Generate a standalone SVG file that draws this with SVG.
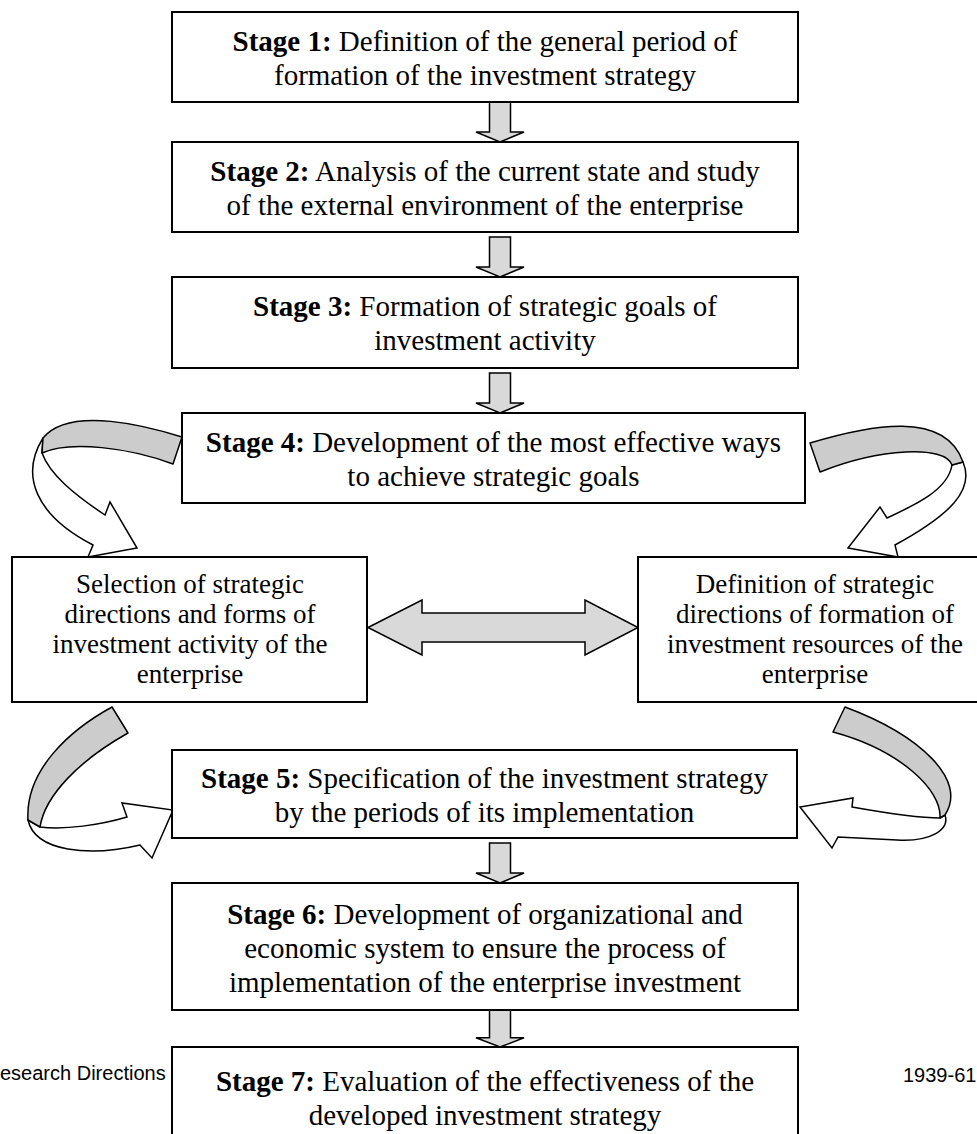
<svg xmlns="http://www.w3.org/2000/svg" width="977" height="1134" viewBox="0 0 977 1134">
<style>
.box{fill:#fff;stroke:#000;stroke-width:2}
.t{font-family:"Liberation Serif","Times New Roman",serif;font-size:29px;fill:#000;text-anchor:middle}
.s{font-family:"Liberation Serif","Times New Roman",serif;font-size:27px;fill:#000;text-anchor:middle}
.b{font-weight:bold}
.arr{fill:#d9d9d9;stroke:#000;stroke-width:1.5;stroke-linejoin:miter}
.rib{fill:#cccccc;stroke:#000;stroke-width:1.5;stroke-linejoin:round}
.wht{fill:#fff;stroke:#000;stroke-width:1.5;stroke-linejoin:miter}
.ft{font-family:"Liberation Sans",Arial,sans-serif;font-size:20px;fill:#000}
</style>
<defs>
<path id="down" d="M-10.5,0 L10.5,0 L10.5,30 L24,30 L0,40 L-24,30 L-10.5,30 Z"/>
</defs>
<rect width="977" height="1134" fill="#fff"/>
<g id="footer">
<text class="ft" x="0" y="1080">esearch Directions</text>
<text class="ft" x="903" y="1082">1939-61</text>
</g>
<g id="connectors">
<use href="#down" class="arr" transform="translate(500,102)"/>
<use href="#down" class="arr" transform="translate(500,237)"/>
<use href="#down" class="arr" transform="translate(500,373)"/>
<use href="#down" class="arr" transform="translate(500,843)"/>
<use href="#down" class="arr" transform="translate(500,1010) scale(1,0.925)"/>
<path class="arr" d="M368,627.5 L422,600 L422,613 L585,613 L585,600 L638,627.5 L585,655 L585,642 L422,642 L422,655 Z"/>
<path class="wht" d="M43,438 C20,475 35,515 93,545 L88,557 L137,548 L110,502 L105,515 C75,495 50,475 42,453 Z"/>
<path class="rib" d="M182,437 C150,427 70,405 43,438 L42,453 C70,440 130,448 173,464 Z"/>
<path class="wht" d="M963,462 C975,490 950,515 895,545 L898,557 L848,548 L880,507 L887,518 C915,505 948,490 952,465 Z"/>
<path class="rib" d="M810,443 C870,425 945,410 963,462 L952,465 C945,445 880,448 820,472 Z"/>
<path class="wht" d="M28,820 C35,852 90,857 140,845 L152,858 L173,810 L122,803 L127,817 C100,825 65,830 40,827 Z"/>
<path class="rib" d="M112,707 C70,730 25,770 28,820 L40,827 C45,795 80,760 128,733 Z"/>
<path class="wht" d="M945,815 C950,830 930,842 897,840 C875,839 855,838 838,837 L832,848 L800,807 L853,798 L852,807 C880,812 915,818 940,818 Z"/>
<path class="rib" d="M845,707 C920,735 968,780 945,815 L940,818 C942,790 900,750 833,732 Z"/>
</g>
<g id="stage1">
<rect class="box" x="172" y="12" width="626" height="90"/>
<text class="t" x="485" y="51"><tspan class="b">Stage 1:</tspan> Definition of the general period of</text>
<text class="t" x="485" y="85">formation of the investment strategy</text>
</g>
<g id="stage2">
<rect class="box" x="172" y="142" width="626" height="90"/>
<text class="t" x="485" y="181"><tspan class="b">Stage 2:</tspan> Analysis of the current state and study</text>
<text class="t" x="485" y="215">of the external environment of the enterprise</text>
</g>
<g id="stage3">
<rect class="box" x="172" y="277" width="626" height="91"/>
<text class="t" x="485" y="316"><tspan class="b">Stage 3:</tspan> Formation of strategic goals of</text>
<text class="t" x="485" y="350">investment activity</text>
</g>
<g id="stage4">
<rect class="box" x="182" y="413" width="623" height="90"/>
<text class="t" x="493.5" y="452"><tspan class="b">Stage 4:</tspan> Development of the most effective ways</text>
<text class="t" x="493.5" y="486">to achieve strategic goals</text>
</g>
<g id="selection">
<rect class="box" x="12" y="557" width="355" height="145"/>
<text class="s" x="190" y="593">Selection of strategic</text>
<text class="s" x="190" y="623">directions and forms of</text>
<text class="s" x="190" y="653">investment activity of the</text>
<text class="s" x="190" y="683">enterprise</text>
</g>
<g id="definition">
<rect class="box" x="638" y="557" width="355" height="145"/>
<text class="s" x="815" y="593">Definition of strategic</text>
<text class="s" x="815" y="623">directions of formation of</text>
<text class="s" x="815" y="653">investment resources of the</text>
<text class="s" x="815" y="683">enterprise</text>
</g>
<g id="stage5">
<rect class="box" x="172" y="750" width="625" height="88"/>
<text class="t" x="484.5" y="788"><tspan class="b">Stage 5:</tspan> Specification of the investment strategy</text>
<text class="t" x="484.5" y="822">by the periods of its implementation</text>
</g>
<g id="stage6">
<rect class="box" x="172" y="883" width="626" height="127"/>
<text class="t" x="485" y="924"><tspan class="b">Stage 6:</tspan> Development of organizational and</text>
<text class="t" x="485" y="958">economic system to ensure the process of</text>
<text class="t" x="485" y="992">implementation of the enterprise investment</text>
</g>
<g id="stage7">
<rect class="box" x="172" y="1047" width="626" height="100"/>
<text class="t" x="485" y="1091"><tspan class="b">Stage 7:</tspan> Evaluation of the effectiveness of the</text>
<text class="t" x="485" y="1125">developed investment strategy</text>
</g>
</svg>
